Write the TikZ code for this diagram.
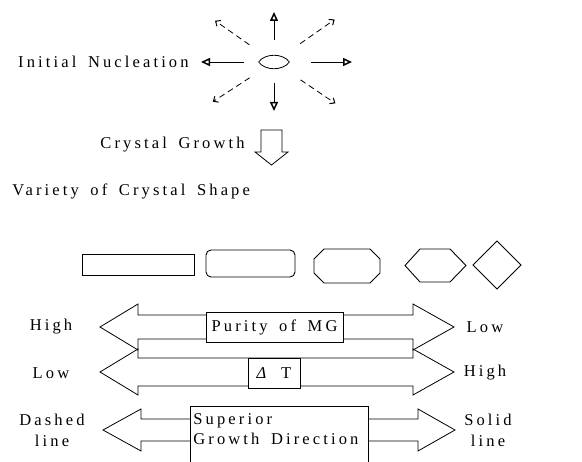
\documentclass[tikz,border=0pt]{standalone}
\usepackage{fontspec}
\setmainfont{Liberation Serif}
\newfontfamily\spaced{Liberation Serif}[LetterSpace=19, WordSpace=1.6]
\usetikzlibrary{arrows.meta}

\begin{document}
\begin{tikzpicture}[x=1pt, y=-1pt, line width=0.8pt,
    txt/.style={inner sep=0pt, font=\spaced\fontsize{16.5}{19}\selectfont},
    ray/.style={-{Triangle[open, length=9pt, width=8pt, line width=1.5pt]}},
    dray/.style={dashed, dash pattern=on 6pt off 4pt, -{Straight Barb[length=4pt, width=7pt, line width=1pt]}},
    crystal/.style={draw, line width=0.9pt},
    labelbox/.style={draw, fill=white, inner sep=3pt, font=\spaced\fontsize{16.5}{19}\selectfont}]
    \useasboundingbox (0,0) rectangle (582,462);

    % nucleus
    \node[inner sep=0pt, minimum width=30pt, minimum height=12pt] (nuc) at (274,62) {};
    \draw (nuc.west) .. controls (265,53) and (283,53) .. (nuc.east)
          .. controls (283,71) and (265,71) .. (nuc.west);
    \foreach \a/\r/\R in {180/30/73, 0/37/78, 90/21/49, 270/22/50}
        \draw[ray] (nuc.center) ++(\a:\r) -- ++(\a:\R-\r);
    \foreach \a/\r/\R in {147/29/73, 34/32/74, 215/30/72, 325/32/74}
        \draw[dray] (nuc.center) ++(\a:\r) -- ++(\a:\R-\r);
    \node[txt, anchor=east] (nucl) at (189,62) {Initial Nucleation};

    % growth
    \node[txt, anchor=east] (grow) at (245,145) {Crystal Growth};
    \draw (261,130) -- (282,130) -- (282,152) -- (288,152) -- (271.5,165)
          -- (255,152) -- (261,152) -- cycle;
    \node[txt, anchor=west] (variety) at (12,191) {Variety of Crystal Shape};

    % crystal shapes
    \draw[crystal] (82,254) rectangle (194,275);
    \draw[crystal, rounded corners=5pt] (206,250) rectangle (295,277);
    \draw[crystal] (324,249) -- (370,249) -- (380,259) -- (380,273) -- (370,283)
          -- (324,283) -- (314,273) -- (314,259) -- cycle;
    \draw[crystal] (420,249) -- (450,249) -- (466,265.5) -- (450,282) -- (420,282)
          -- (405,265.5) -- cycle;
    \draw[crystal] (497,241) -- (521,265) -- (497,289) -- (473,265) -- cycle;

    % two-way arrows
    \foreach \c/\h/\H/\xl/\xb/\xB/\xr in {327/12/23/100/138/413/454,
                                          372/14/23/100/138/413/454,
                                          430/11/21/103/141/418/455}
        \draw (\xl,\c) -- (\xb,\c-\H) -- (\xb,\c-\h) -- (\xB,\c-\h) -- (\xB,\c-\H)
              -- (\xr,\c) -- (\xB,\c+\H) -- (\xB,\c+\h) -- (\xb,\c+\h)
              -- (\xb,\c+\H) -- cycle;

    \node[labelbox, minimum width=137pt, minimum height=30pt] (purity) at (274.5,327) {Purity of MG};
    \node[labelbox, minimum width=52pt, minimum height=30pt] (dt) at (274,373) {\textit{Δ} T};
    \draw[fill=white] (190,470) -- (190,406) -- (368,406) -- (368,470);
    \node[txt, anchor=north west, align=left, inner sep=0pt] (sgd) at (193,413)
          {Superior\\[1pt]Growth Direction};

    \node[txt] (hi1) at (51,327) {High};
    \node[txt] (lo1) at (485,327) {Low};
    \node[txt] (lo2) at (51,373) {Low};
    \node[txt] (hi2) at (485,373) {High};
    \node[txt, align=center] (dash) at (52,430) {Dashed\\[2pt]line};
    \node[txt, align=center] (solid) at (488,430) {Solid\\[2pt]line};
\end{tikzpicture}
\end{document}
